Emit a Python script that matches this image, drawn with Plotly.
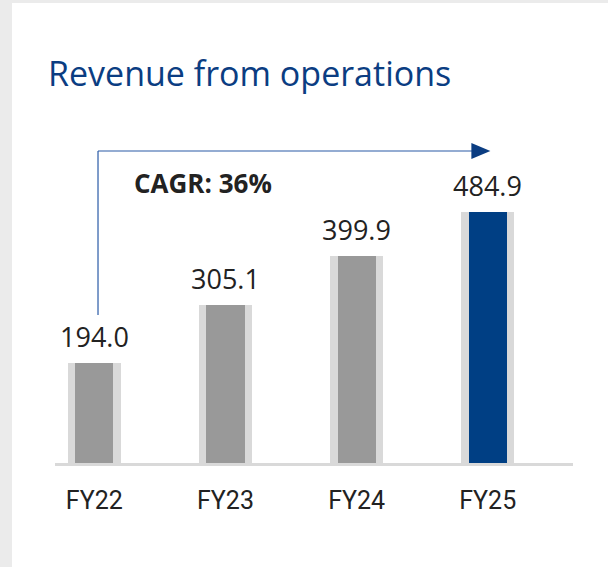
import plotly.graph_objects as go

categories = ["FY22", "FY23", "FY24", "FY25"]
revenue = [194.0, 305.1, 399.9, 484.9]
value_labels = ["194.0", "305.1", "399.9", "484.9"]
inner_colors = ["#999999", "#999999", "#999999", "#003f84"]
cagr_text = "CAGR: 36%"
title_text = "Revenue from operations"

x_pos = list(range(len(categories)))

# paper coords relative to plot area: x 55..573, y 140..463
def px_x(p):
    return (p - 55) / 518
def px_y(p):
    return (463 - p) / 323

fig = go.Figure()
fig.add_trace(go.Bar(x=x_pos, y=revenue, width=0.405,
                     marker=dict(color="#d9d9d9", line=dict(width=0)),
                     hoverinfo="skip", showlegend=False))
fig.add_trace(go.Bar(x=x_pos, y=revenue, width=0.29,
                     marker=dict(color=inner_colors, line=dict(width=0)),
                     showlegend=False))

annotations = []
for xi, v, lab in zip(x_pos, revenue, value_labels):
    annotations.append(dict(x=xi, y=v, xref="x", yref="y", text=lab,
                            showarrow=False, yanchor="middle", yshift=26,
                            font=dict(family="Open Sans", size=27, color="#222222")))

annotations.append(dict(x=px_x(203), y=px_y(183), xref="paper", yref="paper", text="<b>" + cagr_text + "</b>",
                        showarrow=False, xanchor="center", yanchor="middle",
                        font=dict(family="Open Sans", size=26, color="#222222")))
annotations.append(dict(x=px_x(46), y=px_y(73), xref="paper", yref="paper",
                        text=title_text, showarrow=False, xanchor="left", yanchor="middle",
                        font=dict(family="Open Sans", size=34, color="#0b3d82", weight=500)))

shapes = [
    dict(type="rect", xref="paper", yref="paper", x0=px_x(0), x1=px_x(12), y0=px_y(567), y1=px_y(0),
         fillcolor="#ebebeb", line=dict(width=0), layer="below"),
    dict(type="rect", xref="paper", yref="paper", x0=px_x(0), x1=px_x(608), y0=px_y(3), y1=px_y(0),
         fillcolor="#ebebeb", line=dict(width=0), layer="below"),
    # CAGR connector
    dict(type="line", xref="x", yref="paper", x0=0.028, x1=0.028, y0=px_y(315), y1=px_y(151),
         line=dict(color="#2a5aa6", width=1.2)),
    dict(type="line", xref="x", yref="paper", x0=0.028, x1=2.89, y0=px_y(151), y1=px_y(151),
         line=dict(color="#2a5aa6", width=1.2)),
    dict(type="path", xref="x", yref="paper", xsizemode="pixel", ysizemode="pixel",
         xanchor=3.02, yanchor=px_y(151), path="M 0 0 L -19 8 L -19 -8 Z",
         fillcolor="#0b3d82", line=dict(width=0)),
]

fig.update_layout(
    width=608, height=567,
    margin=dict(l=55, r=35, t=140, b=104),
    paper_bgcolor="white", plot_bgcolor="rgba(0,0,0,0)",
    barmode="overlay", bargap=0,
    xaxis=dict(range=[-0.30, 3.65], tickvals=x_pos, ticktext=categories,
               showgrid=False, zeroline=False, showline=True, linecolor="#d9d9d9", linewidth=3,
               layer="below traces", ticks="", ticklabelstandoff=13,
               tickfont=dict(family="Roboto", size=25, color="#222222"), fixedrange=True),
    yaxis=dict(range=[0, 623.5], visible=False, fixedrange=True),
    annotations=annotations, shapes=shapes,
)

fig.write_html("out.html", config={"displayModeBar": False},
               post_script="document.body.style.margin='0';document.body.style.overflow='hidden';")
